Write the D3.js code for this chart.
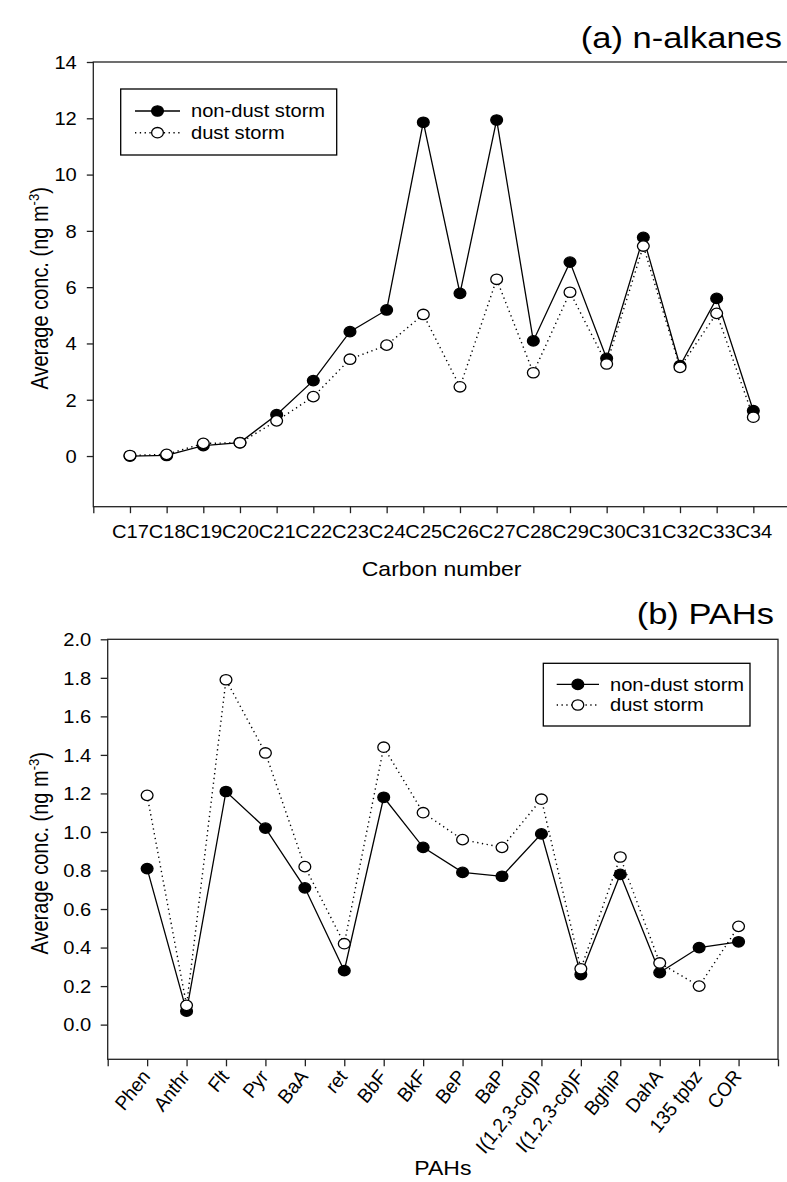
<!DOCTYPE html>
<html>
<head>
<meta charset="utf-8">
<script src="https://cdn.jsdelivr.net/npm/d3@7"></script>
<style>
  body { margin: 0; background: #fff; }
  svg text { font-family: "Liberation Sans", Arial, sans-serif; fill: #000; }
</style>
</head>
<body>
<svg id="chart" width="787" height="1182"></svg>
<script>
// (a) n-alkanes, ng m-3
var alkaneLabels = ["C17", "C18", "C19", "C20", "C21", "C22", "C23", "C24", "C25",
    "C26", "C27", "C28", "C29", "C30", "C31", "C32", "C33", "C34"];
var alkaneNonDust = [0.0, 0.02, 0.37, 0.48, 1.47, 2.68, 4.42, 5.19, 11.86,
    5.78, 11.94, 4.09, 6.89, 3.47, 7.77, 3.21, 5.6, 1.61];
var alkaneDust = [0.02, 0.06, 0.45, 0.47, 1.25, 2.11, 3.44, 3.94, 5.03,
    2.46, 6.28, 2.96, 5.82, 3.27, 7.46, 3.15, 5.07, 1.38];
var alkaneTicks = [0, 2, 4, 6, 8, 10, 12, 14];

// (b) PAHs, ng m-3
var pahLabels = ["Phen", "Anthr", "Flt", "Pyr", "BaA", "ret", "BbF", "BkF", "BeP",
    "BaP", "I(1,2,3-cd)P", "I(1,2,3-cd)F", "BghiP", "DahA", "135 tpbz", "COR"];
var pahNonDust = [0.81, 0.07, 1.21, 1.02, 0.71, 0.28, 1.18, 0.92, 0.79,
    0.77, 0.99, 0.26, 0.78, 0.27, 0.40, 0.43];
var pahDust = [1.19, 0.10, 1.79, 1.41, 0.82, 0.42, 1.44, 1.10, 0.96,
    0.92, 1.17, 0.29, 0.87, 0.32, 0.20, 0.51];
var pahTicks = [0, 0.2, 0.4, 0.6, 0.8, 1.0, 1.2, 1.4, 1.6, 1.8, 2.0];

var seriesNames = ["non-dust storm", "dust storm"];

var svg = d3.select("#chart");
var SX = 1.15;        // the original export is stretched sideways, text included
var AXIS = "#222";

// place a text at (x, y) with the sideways stretch (and an optional rotation)
function placeText(sel, x, y, rot) {
    sel.attr("x", 0).attr("y", 0)
        .attr("transform", "translate(" + x + "," + y + ") scale(" + SX + ",1)" +
            (rot ? " rotate(" + rot + ")" : ""));
    return sel;
}

function drawMarkers(g, data, x, y, filled) {
    g.selectAll(null)
        .data(data)
        .enter().append("ellipse")
        .attr("cx", function (d, i) { return x(i + 1); })
        .attr("cy", function (d) { return y(d); })
        .attr("rx", 5.9)
        .attr("ry", 5.2)
        .attr("fill", filled ? "#000" : "#fff")
        .attr("stroke", "#000")
        .attr("stroke-width", 1.3);
}

function drawLegend(g, box) {
    g.append("rect")
        .attr("x", box.x).attr("y", box.y)
        .attr("width", box.w).attr("height", box.h)
        .attr("fill", "#fff").attr("stroke", "#000").attr("stroke-width", 1.3);
    seriesNames.forEach(function (name, i) {
        var cy = box.rows[i];
        g.append("line")
            .attr("x1", box.lineX0).attr("x2", box.lineX1)
            .attr("y1", cy).attr("y2", cy)
            .attr("stroke", "#000").attr("stroke-width", i === 0 ? 1.3 : 1.4)
            .attr("stroke-dasharray", i === 0 ? null : "1.3,3.5");
        g.append("ellipse")
            .attr("cx", (box.lineX0 + box.lineX1) / 2).attr("cy", cy)
            .attr("rx", 5.9).attr("ry", 5.2)
            .attr("fill", i === 0 ? "#000" : "#fff")
            .attr("stroke", "#000").attr("stroke-width", 1.3);
        placeText(g.append("text"), box.textX, cy + 6.3)
            .attr("font-size", 17.5)
            .text(name);
    });
}

function drawPanel(p) {
    var x = d3.scaleLinear().domain([0, p.labels.length + 1]).range([p.left, p.right]);
    var y = d3.scaleLinear().domain(p.yDomain).range([p.bottom, p.top]);
    var g = svg.append("g");

    // y axis
    var ya = g.append("g")
        .attr("transform", "translate(" + p.left + ",0)")
        .call(d3.axisLeft(y).tickValues(p.yTicks).tickFormat(p.yFormat).tickSize(p.tickLen))
        .attr("font-size", null).attr("font-family", null);
    ya.select(".domain").remove();
    ya.selectAll(".tick line").attr("stroke", AXIS).attr("stroke-width", 1.3);
    ya.selectAll(".tick text").each(function () {
        placeText(d3.select(this), -16.5, 0)
            .attr("dy", "0.36em").attr("font-size", 17.5).attr("text-anchor", "end");
    });

    // x axis
    var xa = g.append("g")
        .attr("transform", "translate(0," + p.bottom + ")")
        .call(d3.axisBottom(x).tickValues(d3.range(0, p.labels.length + 2))
            .tickFormat(function (d) { return p.labels[d - 1] || ""; })
            .tickSize(p.tickLen))
        .attr("font-size", null).attr("font-family", null);
    xa.select(".domain").remove();
    xa.selectAll(".tick line").attr("stroke", AXIS).attr("stroke-width", 1.3);
    xa.selectAll(".tick text").each(function () {
        var t = d3.select(this).attr("dy", null);
        if (p.rotateLabels) {
            placeText(t, 4, 17, -56).attr("text-anchor", "end")
                .attr("font-size", 18).attr("font-style", "italic");
        } else {
            placeText(t, 0, 31.5).attr("text-anchor", "middle").attr("font-size", 17.5);
        }
    });

    // plot frame
    g.append("rect")
        .attr("x", p.left).attr("y", p.top)
        .attr("width", p.right - p.left).attr("height", p.bottom - p.top)
        .attr("fill", "none").attr("stroke", AXIS).attr("stroke-width", 1.3);

    var line = d3.line()
        .x(function (d, i) { return x(i + 1); })
        .y(function (d) { return y(d); });

    g.append("path").datum(p.nonDust)
        .attr("d", line).attr("fill", "none")
        .attr("stroke", "#000").attr("stroke-width", 1.3);
    drawMarkers(g, p.nonDust, x, y, true);

    g.append("path").datum(p.dust)
        .attr("d", line).attr("fill", "none")
        .attr("stroke", "#000").attr("stroke-width", 1.4)
        .attr("stroke-dasharray", "1.3,3.5");
    drawMarkers(g, p.dust, x, y, false);

    drawLegend(g, p.legend);

    // titles
    placeText(g.append("text"), p.titleX, p.titleY)
        .attr("font-size", 30).attr("text-anchor", "end").text(p.title);
    placeText(g.append("text"), (p.left + p.right) / 2, p.xTitleY)
        .attr("font-size", 20).attr("text-anchor", "middle").text(p.xTitle);

    var yt = placeText(g.append("text"), 48, (p.top + p.bottom) / 2 + 4, -90)
        .attr("font-size", 20).attr("text-anchor", "middle");
    yt.append("tspan").text("Average conc. (ng m");
    yt.append("tspan").attr("font-size", 13).attr("dy", -8).text("-3");
    yt.append("tspan").attr("dy", 8).text(")");
}

drawPanel({
    labels: alkaneLabels, nonDust: alkaneNonDust, dust: alkaneDust,
    yDomain: [-1.8, 14], yTicks: alkaneTicks, yFormat: d3.format("d"),
    left: 93.3, right: 790, top: 62, bottom: 506.7, tickLen: 6.5,
    rotateLabels: false,
    title: "(a) n-alkanes", titleX: 782, titleY: 48,
    xTitle: "Carbon number", xTitleY: 576,
    legend: { x: 120.7, y: 89, w: 216, h: 66, lineX0: 135, lineX1: 180, textX: 191, rows: [111, 132.7] }
});

drawPanel({
    labels: pahLabels, nonDust: pahNonDust, dust: pahDust,
    yDomain: [-0.18, 2.0], yTicks: pahTicks, yFormat: d3.format(".1f"),
    left: 107.7, right: 778, top: 639.3, bottom: 1059.3, tickLen: 7,
    rotateLabels: true,
    title: "(b) PAHs", titleX: 774, titleY: 624,
    xTitle: "PAHs", xTitleY: 1175,
    legend: { x: 543.3, y: 663.3, w: 206.7, h: 62.7, lineX0: 556.7, lineX1: 599, textX: 610, rows: [684.3, 705] }
});
</script>
</body>
</html>
